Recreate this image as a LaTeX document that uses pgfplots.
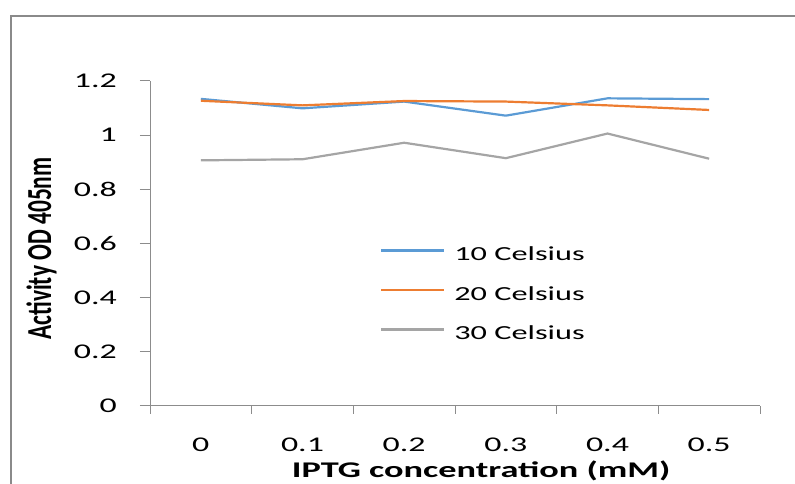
\documentclass[border=0pt]{standalone}
\usepackage{pgfplots}
\pgfplotsset{compat=1.18}
\usepackage{fontspec}
\setmainfont{Carlito}[FakeStretch=1.62]
\newfontfamily\plainfont{Carlito}

\definecolor{tenC}{HTML}{5B9BD5}
\definecolor{twentyC}{HTML}{ED7D31}
\definecolor{thirtyC}{HTML}{A5A5A5}
\definecolor{axisgray}{HTML}{8C8C8C}
\definecolor{framegray}{HTML}{8A8A8A}

\begin{document}
\begin{tikzpicture}[x=1bp,y=1bp]
\path[use as bounding box] (0,0) rectangle (795,484);
% chart area frame
\draw[framegray, line width=1.2bp] (11,0) -- (11,468) -- (795,468);
\begin{axis}[
  at={(150bp,78bp)}, anchor=south west,
  scale only axis, width=610bp, height=325bp,
  xmin=-0.5, xmax=5.5, ymin=0, ymax=1.2,
  axis lines=left, axis line style={-, draw=axisgray, line width=1bp},
  xtick={0,1,2,3,4,5},
  xticklabels={0,0.1,0.2,0.3,0.4,0.5},
  minor xtick={-0.5,0.5,1.5,2.5,3.5,4.5,5.5},
  ytick={0,0.2,0.4,0.6,0.8,1,1.2},
  tick align=outside,
  major tick length=10bp, minor tick length=8bp,
  major x tick style={draw=none},
  minor x tick style={draw=axisgray, line width=1bp},
  major y tick style={draw=axisgray, line width=1bp},
  /pgf/number format/assume math mode=true,
  ticklabel style={font=\fontsize{21}{25}\selectfont, text=black},
  yticklabel style={anchor=east, inner sep=0pt, xshift=-23bp},
  xticklabel style={anchor=north, inner sep=0pt, yshift=-22bp},
  xlabel={\bfseries IPTG concentration (mM)},
  xlabel style={at={(axis description cs:0.543,-0.2246)}, anchor=base,
    yshift=1.2bp, font=\fontsize{22.5}{27}\selectfont, inner sep=0pt},
  ylabel={\scalebox{1}[1.5]{\plainfont\bfseries Activity OD 405nm}},
  ylabel style={at={(axis description cs:-0.178,0.4846)}, anchor=center,
    rotate=0, font=\fontsize{23.5}{28}\selectfont, inner sep=0pt},
  legend style={at={(axis description cs:0.377,0.3415)}, anchor=west,
    draw=none, fill=none, inner sep=0pt, row sep=21.5bp, column sep=9bp,
    nodes={inner sep=0pt, text height=14bp, text depth=4bp},
    font=\fontsize{20}{24}\selectfont},
  legend cell align=left,
  legend image code/.code={\draw[#1] (0bp,5bp) -- (63bp,5bp);},
  every axis plot/.append style={line width=2.2bp, line join=round},
]
\addplot[tenC, no marks] coordinates {
  (0,1.134) (1,1.099) (2,1.124) (3,1.072) (4,1.136) (5,1.133)};
\addlegendentry{10 Celsius}
\addplot[twentyC, no marks] coordinates {
  (0,1.127) (1,1.110) (2,1.126) (3,1.124) (4,1.110) (5,1.093)};
\addlegendentry{20 Celsius}
\addplot[thirtyC, no marks] coordinates {
  (0,0.907) (1,0.911) (2,0.972) (3,0.915) (4,1.006) (5,0.913)};
\addlegendentry{30 Celsius}
\end{axis}
\end{tikzpicture}
\end{document}
